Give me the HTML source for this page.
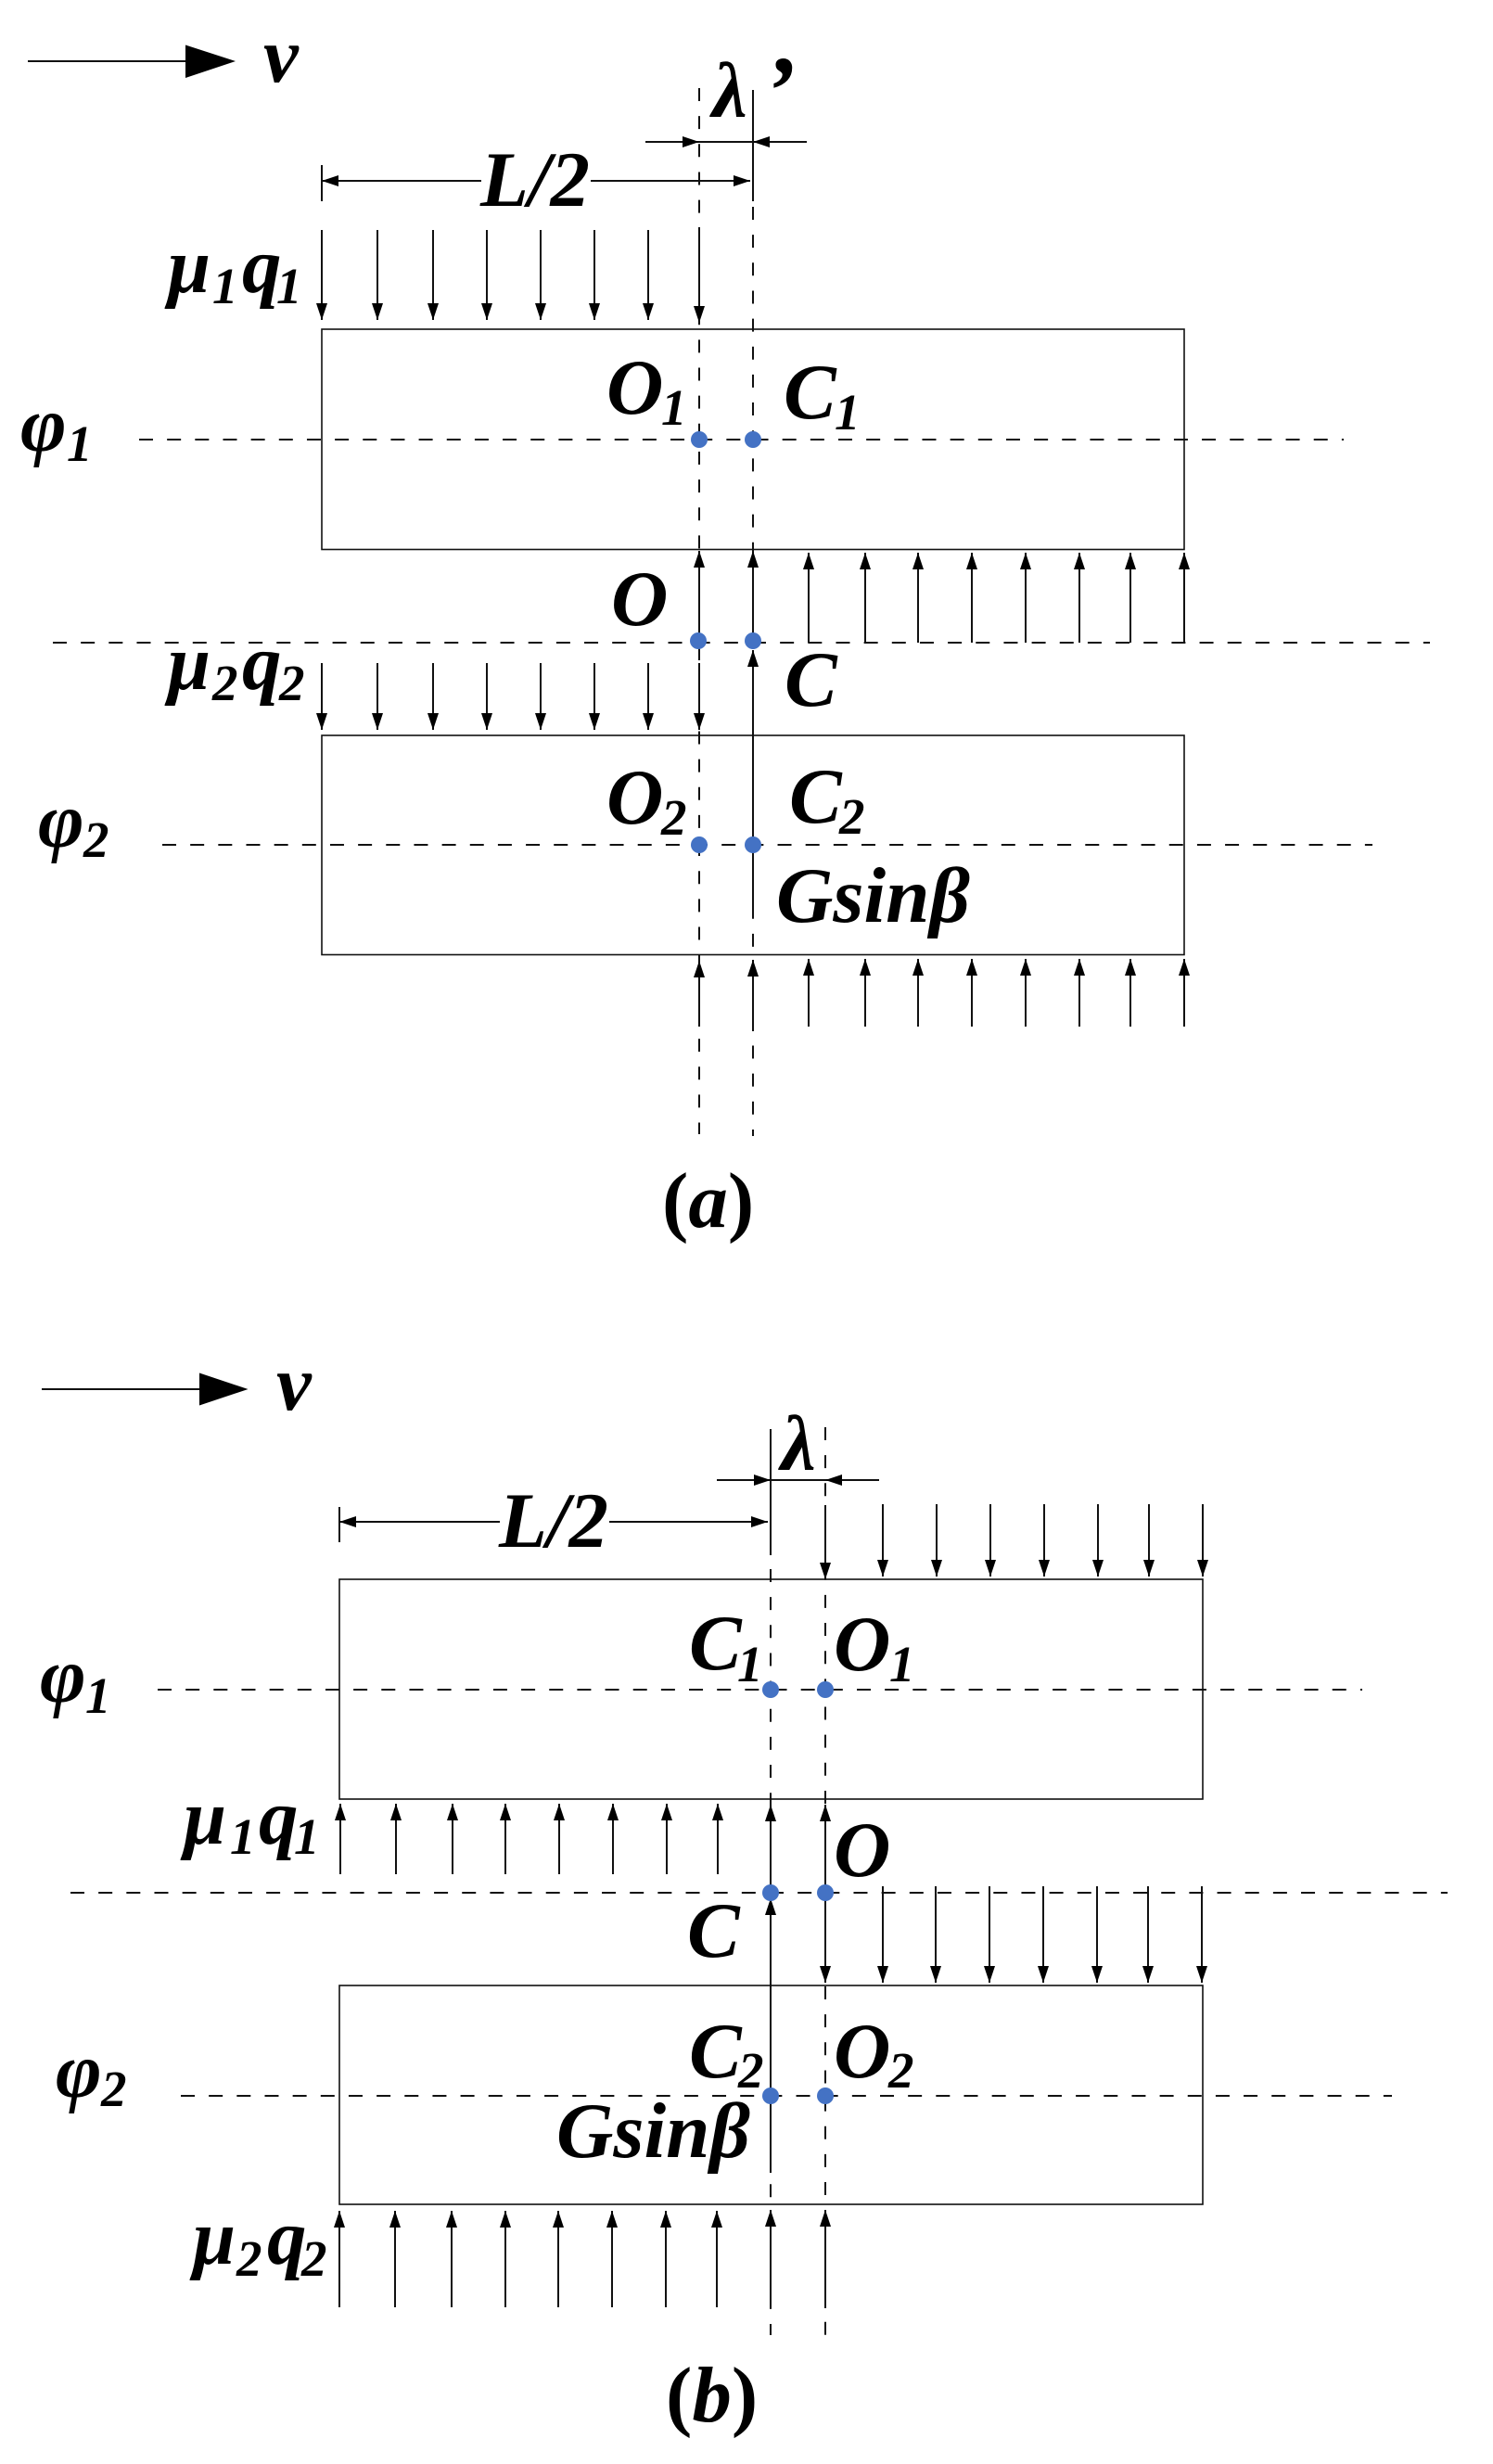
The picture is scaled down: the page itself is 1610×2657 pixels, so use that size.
<!DOCTYPE html>
<html>
<head>
<meta charset="utf-8">
<style>
html,body{margin:0;padding:0;background:#fff}
svg{display:block}
text{font-family:"Liberation Serif","DejaVu Serif",serif;font-weight:bold;font-style:italic;fill:#000}
.m{font-size:85px}
.s{font-size:55px}
.q{font-size:105px}
.u{font-style:normal}
.d{stroke:#111;stroke-width:2;stroke-dasharray:15 15.160;fill:none}
.v{stroke:#111;stroke-width:2;stroke-dasharray:14 16.150;fill:none}
.l{stroke:#111;stroke-width:2;fill:none}
.a{stroke:#111;stroke-width:2;fill:none;marker-end:url(#h)}
.r{stroke:#111;stroke-width:1.6;fill:none}
.o{fill:#4472C4}
</style>
</head>
<body>
<svg xmlns="http://www.w3.org/2000/svg" width="1610" height="2657" viewBox="0 0 1610 2657">
<defs>
<marker id="h" markerUnits="userSpaceOnUse" markerWidth="18" markerHeight="12" viewBox="0 0 18 12" refX="18" refY="6" orient="auto"><path d="M0 0L18 6L0 12Z" fill="#000"/></marker>
</defs>
<rect width="1610" height="2657" fill="#fff"/>

<!-- (a) -->
<line class="l" x1="30" y1="66" x2="202" y2="66"/>
<path d="M200 48.500L254 66L200 84Z" fill="#000"/>
<line class="v" x1="754" y1="95" x2="754" y2="1223"/>
<line class="l" x1="812" y1="97" x2="812" y2="217"/>
<line class="v" x1="812" y1="223" x2="812" y2="1225"/>
<line class="d" x1="150" y1="474" x2="1449" y2="474"/>
<line class="d" x1="57" y1="693" x2="1542" y2="693"/>
<line class="d" x1="175" y1="911" x2="1480" y2="911"/>
<rect class="r" x="347" y="355" width="930" height="237.500"/>
<rect class="r" x="347" y="793" width="930" height="236.500"/>
<line class="a" x1="696" y1="153" x2="754" y2="153"/>
<line class="l" x1="754" y1="153" x2="812" y2="153"/>
<line class="a" x1="870" y1="153" x2="812" y2="153"/>
<line class="l" x1="347" y1="178" x2="347" y2="217"/>
<line class="a" x1="519" y1="195" x2="347" y2="195"/>
<line class="a" x1="637" y1="195" x2="809" y2="195"/>

<line class="a" x1="347" y1="248" x2="347" y2="345"/>
<line class="a" x1="407" y1="248" x2="407" y2="345"/>
<line class="a" x1="467" y1="248" x2="467" y2="345"/>
<line class="a" x1="525" y1="248" x2="525" y2="345"/>
<line class="a" x1="583" y1="248" x2="583" y2="345"/>
<line class="a" x1="641" y1="248" x2="641" y2="345"/>
<line class="a" x1="699" y1="248" x2="699" y2="345"/>
<line class="a" x1="754" y1="245" x2="754" y2="348"/>

<line class="a" x1="754" y1="693" x2="754" y2="594"/>
<line class="a" x1="812" y1="693" x2="812" y2="594"/>
<line class="a" x1="872" y1="693" x2="872" y2="596"/>
<line class="a" x1="933" y1="693" x2="933" y2="596"/>
<line class="a" x1="990" y1="693" x2="990" y2="596"/>
<line class="a" x1="1048" y1="693" x2="1048" y2="596"/>
<line class="a" x1="1106" y1="693" x2="1106" y2="596"/>
<line class="a" x1="1164" y1="693" x2="1164" y2="596"/>
<line class="a" x1="1219" y1="693" x2="1219" y2="596"/>
<line class="a" x1="1277" y1="693" x2="1277" y2="596"/>

<line class="a" x1="812" y1="990" x2="812" y2="701"/>

<line class="a" x1="347" y1="715" x2="347" y2="787"/>
<line class="a" x1="407" y1="715" x2="407" y2="787"/>
<line class="a" x1="467" y1="715" x2="467" y2="787"/>
<line class="a" x1="525" y1="715" x2="525" y2="787"/>
<line class="a" x1="583" y1="715" x2="583" y2="787"/>
<line class="a" x1="641" y1="715" x2="641" y2="787"/>
<line class="a" x1="699" y1="715" x2="699" y2="787"/>
<line class="a" x1="754" y1="715" x2="754" y2="787"/>

<line class="a" x1="754" y1="1107" x2="754" y2="1036"/>
<line class="a" x1="812" y1="1112" x2="812" y2="1035"/>
<line class="a" x1="872" y1="1107" x2="872" y2="1034"/>
<line class="a" x1="933" y1="1107" x2="933" y2="1034"/>
<line class="a" x1="990" y1="1107" x2="990" y2="1034"/>
<line class="a" x1="1048" y1="1107" x2="1048" y2="1034"/>
<line class="a" x1="1106" y1="1107" x2="1106" y2="1034"/>
<line class="a" x1="1164" y1="1107" x2="1164" y2="1034"/>
<line class="a" x1="1219" y1="1107" x2="1219" y2="1034"/>
<line class="a" x1="1277" y1="1107" x2="1277" y2="1034"/>

<ellipse class="o" cx="754" cy="474" rx="9" ry="9"/>
<ellipse class="o" cx="812" cy="474" rx="9" ry="9"/>
<ellipse class="o" cx="753" cy="691" rx="9" ry="9"/>
<ellipse class="o" cx="812" cy="691" rx="9" ry="9"/>
<ellipse class="o" cx="754" cy="911" rx="9" ry="9"/>
<ellipse class="o" cx="812" cy="911" rx="9" ry="9"/>

<text class="m" x="284" y="88">v</text>
<text class="m" x="768" y="126">λ</text>
<text class="q" x="823" y="133">’</text>
<text class="m" x="518" y="222">L/2</text>
<text class="m" x="181" y="315" textLength="46" lengthAdjust="spacingAndGlyphs">μ</text>
<text class="s" x="229" y="327">1</text>
<text class="m" x="261" y="315">q</text>
<text class="s" x="298" y="327">1</text>
<text class="m" x="654" y="446">O</text>
<text class="s" x="713" y="458">1</text>
<text class="m" x="845" y="451">C</text>
<text class="s" x="900" y="463">1</text>
<text class="m" x="22" y="486">φ</text>
<text class="s" x="72" y="497">1</text>
<text class="m" x="659" y="674">O</text>
<text class="m" x="846" y="761">C</text>
<text class="m" x="181" y="743" textLength="46" lengthAdjust="spacingAndGlyphs">μ</text>
<text class="s" x="229" y="755">2</text>
<text class="m" x="261" y="743">q</text>
<text class="s" x="301" y="755">2</text>
<text class="m" x="654" y="888">O</text>
<text class="s" x="713" y="900">2</text>
<text class="m" x="851" y="887">C</text>
<text class="s" x="905" y="899">2</text>
<text class="m" x="837" y="994">Gsinβ</text>
<text class="m" x="41" y="913">φ</text>
<text class="s" x="90" y="924">2</text>
<text class="m" x="714" y="1323"><tspan class="u">(</tspan>a<tspan class="u">)</tspan></text>

<!-- (b) -->
<line class="l" x1="45" y1="1498" x2="217" y2="1498"/>
<path d="M215 1480.500L267.500 1498L215 1515.500Z" fill="#000"/>
<line class="l" x1="831" y1="1541" x2="831" y2="1677"/>
<line class="v" x1="831" y1="1692" x2="831" y2="2518"/>
<line class="v" x1="890" y1="1539" x2="890" y2="2519"/>
<line class="d" x1="170" y1="1822" x2="1469" y2="1822"/>
<line class="d" x1="76" y1="2041" x2="1561" y2="2041"/>
<line class="d" x1="195" y1="2260" x2="1501" y2="2260"/>
<rect class="r" x="366" y="1703" width="931" height="237"/>
<rect class="r" x="366" y="2141" width="931" height="236"/>
<line class="a" x1="773" y1="1596" x2="831" y2="1596"/>
<line class="l" x1="831" y1="1596" x2="890" y2="1596"/>
<line class="a" x1="948" y1="1596" x2="890" y2="1596"/>
<line class="l" x1="366" y1="1625" x2="366" y2="1663"/>
<line class="a" x1="539" y1="1641" x2="366" y2="1641"/>
<line class="a" x1="657" y1="1641" x2="828" y2="1641"/>

<line class="a" x1="890" y1="1623" x2="890" y2="1703"/>
<line class="a" x1="952" y1="1622" x2="952" y2="1700"/>
<line class="a" x1="1010" y1="1622" x2="1010" y2="1700"/>
<line class="a" x1="1068" y1="1622" x2="1068" y2="1700"/>
<line class="a" x1="1126" y1="1622" x2="1126" y2="1700"/>
<line class="a" x1="1184" y1="1622" x2="1184" y2="1700"/>
<line class="a" x1="1239" y1="1622" x2="1239" y2="1700"/>
<line class="a" x1="1297" y1="1622" x2="1297" y2="1700"/>

<line class="a" x1="367" y1="2021" x2="367" y2="1945"/>
<line class="a" x1="427" y1="2021" x2="427" y2="1945"/>
<line class="a" x1="488" y1="2021" x2="488" y2="1945"/>
<line class="a" x1="545" y1="2021" x2="545" y2="1945"/>
<line class="a" x1="603" y1="2021" x2="603" y2="1945"/>
<line class="a" x1="661" y1="2021" x2="661" y2="1945"/>
<line class="a" x1="719" y1="2021" x2="719" y2="1945"/>
<line class="a" x1="774" y1="2021" x2="774" y2="1945"/>
<line class="a" x1="831" y1="2041" x2="831" y2="1946"/>
<line class="a" x1="890" y1="2041" x2="890" y2="1946"/>

<line class="a" x1="831" y1="2343" x2="831" y2="2047"/>

<line class="a" x1="890" y1="2041" x2="890" y2="2138"/>
<line class="a" x1="952" y1="2034" x2="952" y2="2138"/>
<line class="a" x1="1009" y1="2034" x2="1009" y2="2138"/>
<line class="a" x1="1067" y1="2034" x2="1067" y2="2138"/>
<line class="a" x1="1125" y1="2034" x2="1125" y2="2138"/>
<line class="a" x1="1183" y1="2034" x2="1183" y2="2138"/>
<line class="a" x1="1238" y1="2034" x2="1238" y2="2138"/>
<line class="a" x1="1296" y1="2034" x2="1296" y2="2138"/>

<line class="a" x1="366" y1="2488" x2="366" y2="2384"/>
<line class="a" x1="426" y1="2488" x2="426" y2="2384"/>
<line class="a" x1="487" y1="2488" x2="487" y2="2384"/>
<line class="a" x1="545" y1="2488" x2="545" y2="2384"/>
<line class="a" x1="602" y1="2488" x2="602" y2="2384"/>
<line class="a" x1="660" y1="2488" x2="660" y2="2384"/>
<line class="a" x1="718" y1="2488" x2="718" y2="2384"/>
<line class="a" x1="773" y1="2488" x2="773" y2="2384"/>
<line class="a" x1="831" y1="2489" x2="831" y2="2383"/>
<line class="a" x1="890" y1="2489" x2="890" y2="2383"/>

<ellipse class="o" cx="831" cy="1822" rx="9" ry="9"/>
<ellipse class="o" cx="890" cy="1822" rx="9" ry="9"/>
<ellipse class="o" cx="831" cy="2041" rx="9" ry="9"/>
<ellipse class="o" cx="890" cy="2041" rx="9" ry="9"/>
<ellipse class="o" cx="831" cy="2260" rx="9" ry="9"/>
<ellipse class="o" cx="890" cy="2260" rx="9" ry="9"/>

<text class="m" x="298" y="1520">v</text>
<text class="m" x="842" y="1585">λ</text>
<text class="m" x="538" y="1668">L/2</text>
<text class="m" x="743" y="1800">C</text>
<text class="s" x="795" y="1813">1</text>
<text class="m" x="899" y="1801">O</text>
<text class="s" x="959" y="1813">1</text>
<text class="m" x="43" y="1835">φ</text>
<text class="s" x="92" y="1847">1</text>
<text class="m" x="198" y="1988" textLength="46" lengthAdjust="spacingAndGlyphs">μ</text>
<text class="s" x="248" y="1999">1</text>
<text class="m" x="279" y="1988">q</text>
<text class="s" x="317" y="1999">1</text>
<text class="m" x="899" y="2023">O</text>
<text class="m" x="741" y="2110">C</text>
<text class="m" x="743" y="2240">C</text>
<text class="s" x="796" y="2251">2</text>
<text class="m" x="899" y="2240">O</text>
<text class="s" x="958" y="2251">2</text>
<text class="m" x="600" y="2326">Gsinβ</text>
<text class="m" x="60" y="2261">φ</text>
<text class="s" x="109" y="2271">2</text>
<text class="m" x="208" y="2441" textLength="46" lengthAdjust="spacingAndGlyphs">μ</text>
<text class="s" x="255" y="2454">2</text>
<text class="m" x="288" y="2441">q</text>
<text class="s" x="325" y="2454">2</text>
<text class="m" x="718" y="2611"><tspan class="u">(</tspan>b<tspan class="u">)</tspan></text>
</svg>
</body>
</html>
